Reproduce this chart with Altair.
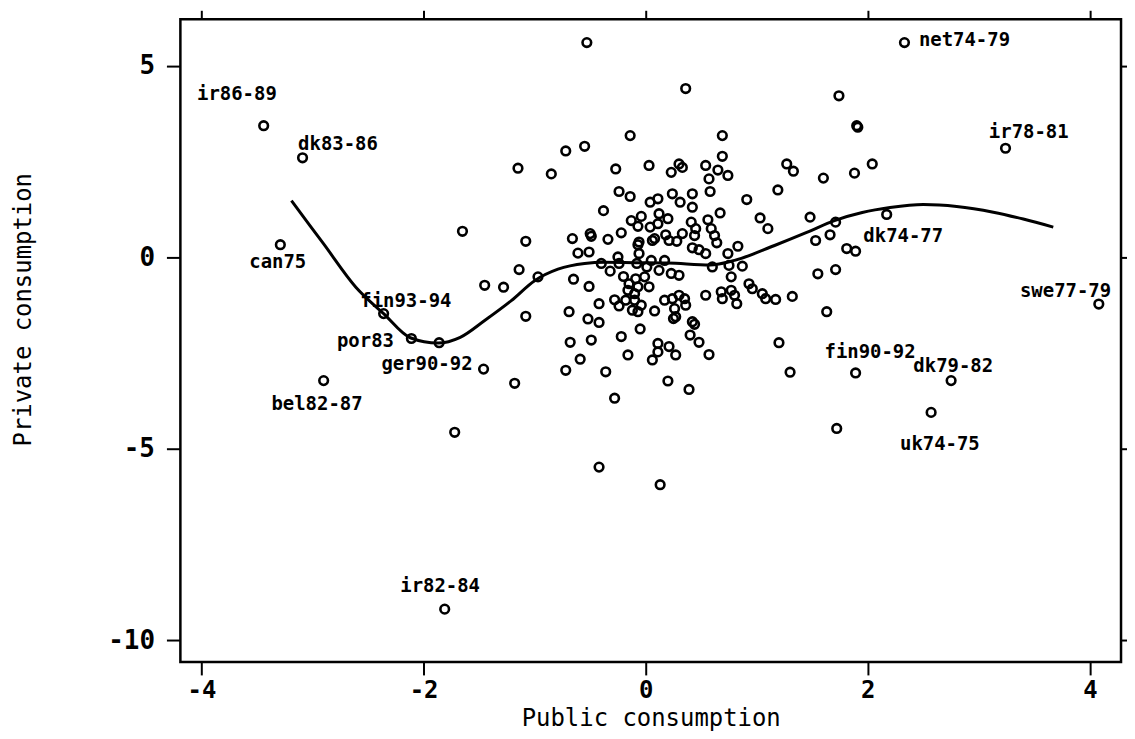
import altair as alt
import pandas as pd

# Scatter values (public consumption, private consumption)
pub = [-3.44, -3.09, -3.29, -2.36, -2.11, -1.86, -1.46, -2.90, -1.18, -1.72, -1.81,
       -1.65, -1.45, -1.28, -1.14, -1.08, -1.08, -0.97, -1.15, -0.85, -0.72, -0.55,
       -0.53, -0.14, -0.27, 0.03, -0.24, -0.14, 0.04, 0.11, -0.38, -0.66, -0.50,
       -0.49, -0.34, -0.22, -0.13, -0.04, -0.07, -0.61, -0.51, -0.65, -0.51, -0.69,
       -0.52, -0.42, -0.42, -0.28, -0.24, -0.40, -0.32, -0.25, -0.24, -0.20, -0.15,
       -0.09, -0.01, 0.03, -0.07, -0.16, -0.10, -0.18, -0.10, -0.04, -0.12, -0.07,
       -0.06, -0.06, -0.07, -0.08, 0.06, 0.04, 0.12, 0.20, 0.11, 0.08, 0.18, 0.21,
       0.33, 0.28, 0.41, 0.45, 0.44, 0.56, 0.59, 0.62, 0.64, 0.42, 0.48, 0.54,
       0.24, 0.31, 0.42, 0.42, 0.67, 0.58, 0.30, 0.33, 0.23, 0.54, 0.57, 0.65,
       0.74, 0.69, 0.69, 0.36, 0.01, 0.05, 0.17, 0.12, 0.23, 0.30, 0.60, 0.74,
       0.83, 0.75, 0.77, 0.87, 0.08, 0.17, 0.24, 0.30, 0.35, 0.36, 0.26, 0.27,
       0.42, 0.44, 0.54, 0.68, 0.69, 0.77, 0.80, 0.82, 0.93, 0.96, 1.05, 1.08,
       1.17, 1.32, 1.55, 1.71, 1.63, -0.05, -0.68, -0.49, -0.22, -0.16, -0.59,
       -0.72, -0.36, -0.28, 0.11, 0.21, 0.27, 0.11, 0.06, 0.20, 0.39, 0.57, 0.40,
       0.48, 0.25, 1.20, 1.30, 1.89, 2.75, 2.57, 1.72, -0.42, 0.13, 2.33, 1.74,
       1.90, 1.91, 3.24, 2.04, 1.88, 1.60, 1.27, 1.33, 1.19, 0.91, 1.03, 1.10,
       1.48, 1.53, 1.66, 1.71, 1.81, 1.89, 2.17, 4.08]
priv = [3.44, 2.60, 0.33, -1.47, -2.12, -2.23, -2.92, -3.22, -3.29, -4.57, -9.19,
        0.68, -0.73, -0.78, -0.32, 0.42, -1.54, -0.51, 2.33, 2.18, 2.78, 2.90,
        5.61, 3.18, 2.31, 2.40, 1.72, 1.59, 1.44, 1.53, 1.22, 0.49, 0.62,
        0.55, 0.47, 0.64, 0.96, 1.07, 0.81, 0.11, 0.14, -0.57, -0.76, -1.42,
        -1.61, -1.70, -1.21, -1.11, -1.27, -0.16, -0.36, 0.01, -0.16, -0.50, -0.69,
        -0.56, -0.51, -0.77, -0.77, -0.86, -0.95, -1.12, -1.12, -1.25, -1.38, -1.42,
        0.10, 0.40, 0.33, -0.16, 0.44, 0.79, 1.14, 1.01, 0.88, 0.49, 0.59, 0.44,
        0.62, 0.42, 0.92, 0.75, 0.57, 0.98, 0.75, 0.57, 0.38, 0.25, 0.20, 0.10,
        1.66, 1.44, 1.66, 1.31, 1.16, 1.72, 2.44, 2.35, 2.22, 2.40, 2.05, 2.28,
        2.14, 2.64, 3.18, 4.41, -0.25, -0.08, -0.08, -0.34, -0.42, -0.47, -0.25, 0.10,
        0.29, -0.21, -0.51, -0.23, -1.40, -1.12, -1.08, -0.99, -1.08, -1.25, -1.34, -1.55,
        -1.68, -1.75, -0.99, -0.90, -1.08, -0.86, -0.99, -1.21, -0.69, -0.82, -0.95, -1.08,
        -1.10, -1.02, -0.43, -0.32, -1.42, -1.87, -2.22, -2.16, -2.07, -2.55, -2.66,
        -2.95, -2.99, -3.68, -2.25, -2.33, -2.55, -2.47, -2.68, -3.23, -3.45, -2.54, -2.03,
        -2.22, -1.60, -2.23, -3.00, -3.02, -3.22, -4.05, -4.47, -5.48, -5.94, 5.61, 4.22,
        3.44, 3.40, 2.85, 2.44, 2.20, 2.07, 2.44, 2.25, 1.76, 1.51, 1.03, 0.75,
        1.05, 0.44, 0.59, 0.92, 0.23, 0.16, 1.12, -1.22]

# Smoothed curve
curve_x = [-3.19, -2.9, -2.61, -2.36, -2.12, -1.87, -1.67, -1.45, -1.21, -1.0, -0.79,
           -0.55, -0.37, -0.1, 0.2, 0.58, 0.8, 1.16, 1.45, 1.7, 1.95, 2.2, 2.5,
           2.8, 3.13, 3.4, 3.67]
curve_y = [1.48, 0.35, -0.78, -1.47, -2.1, -2.24, -2.09, -1.65, -1.13, -0.61, -0.31,
           -0.16, -0.13, -0.14, -0.15, -0.2, -0.08, 0.31, 0.65, 0.96, 1.17, 1.3, 1.38,
           1.33, 1.18, 1.0, 0.79]

# Point labels and their text anchors (left edge, baseline)
label_text = ["ir86-89", "dk83-86", "can75", "fin93-94", "por83", "ger90-92",
              "bel82-87", "ir82-84", "net74-79", "ir78-81", "dk74-77", "swe77-79",
              "fin90-92", "dk79-82", "uk74-75"]
label_x = [-4.04, -3.13, -3.57, -2.57, -2.78, -2.38, -3.37, -2.21, 2.46, 3.09, 1.96,
           3.37, 1.61, 2.41, 2.29]
label_y = [4.11, 2.81, -0.29, -1.30, -2.34, -2.94, -3.98, -8.75, 5.52, 3.13, 0.39,
           -1.04, -2.63, -2.99, -5.03]

x_ticks = [-4, -2, 0, 2, 4]
y_ticks = [-10, -5, 0, 5]
X_DOM = [-4.19, 4.28]
Y_DOM = [-10.57, 6.22]

pts = pd.DataFrame({"pub": pub, "priv": priv})
crv = pd.DataFrame({"cx": curve_x, "cy": curve_y})
lbl = pd.DataFrame({"t": label_text, "lx": label_x, "ly": label_y})

FONT = "DejaVu Sans Mono"
neg = "datum.value < 0 ? '-' + abs(datum.value) : '' + datum.value"
xs = alt.Scale(domain=X_DOM, nice=False, zero=False)
ys = alt.Scale(domain=Y_DOM, nice=False, zero=False)

common = dict(grid=False, domain=False, tickColor="black", tickWidth=2)

x_bottom = alt.Axis(orient="bottom", values=x_ticks, labelExpr=neg, title="Public consumption",
                    tickSize=13, labelFont=FONT, labelFontSize=24, labelFontWeight="bold",
                    labelColor="black", labelPadding=4, titleFont=FONT, titleFontSize=24,
                    titleFontWeight="normal", titleColor="black", titleY=64,
                    titleBaseline="alphabetic", **common)
y_left = alt.Axis(orient="left", values=y_ticks, labelExpr=neg, title="Private consumption",
                  tickSize=14, labelFont=FONT, labelFontSize=26, labelFontWeight="bold",
                  labelColor="black", labelPadding=12, titleFont=FONT, titleFontSize=24,
                  titleFontWeight="normal", titleColor="black", titleAngle=270,
                  titleX=-150, titleY=291, titleBaseline="alphabetic", titleAlign="center",
                  **common)
x_top = alt.Axis(orient="top", values=x_ticks, labels=False, title=None, tickSize=9, **common)
y_right = alt.Axis(orient="right", values=y_ticks, labels=False, title=None, tickSize=6, **common)

points = alt.Chart(pts).mark_point(shape="circle", filled=False, stroke="black",
                                   strokeWidth=2.6, size=75, opacity=1).encode(
    x=alt.X("pub:Q", scale=xs, axis=x_bottom),
    y=alt.Y("priv:Q", scale=ys, axis=y_left),
)
curve = alt.Chart(crv).mark_line(color="black", strokeWidth=3, interpolate="monotone").encode(
    x=alt.X("cx:Q", scale=xs, axis=x_top),
    y=alt.Y("cy:Q", scale=ys, axis=y_right),
    order="cx:Q",
)
labels = alt.Chart(lbl).mark_text(align="left", baseline="alphabetic", font=FONT,
                                  fontSize=19, fontWeight="bold", color="black").encode(
    x=alt.X("lx:Q", scale=xs, axis=None),
    y=alt.Y("ly:Q", scale=ys, axis=None),
    text="t:N",
)

chart = alt.layer(points, curve, labels).resolve_axis(
    x="independent", y="independent"
).properties(
    width=944, height=645, autosize="none",
    padding={"left": 173, "top": 10, "right": 6, "bottom": 70},
    background="white",
).configure_view(stroke="black", strokeWidth=2.5)

chart.save("out.html", embed_options={"renderer": "svg", "actions": False})
